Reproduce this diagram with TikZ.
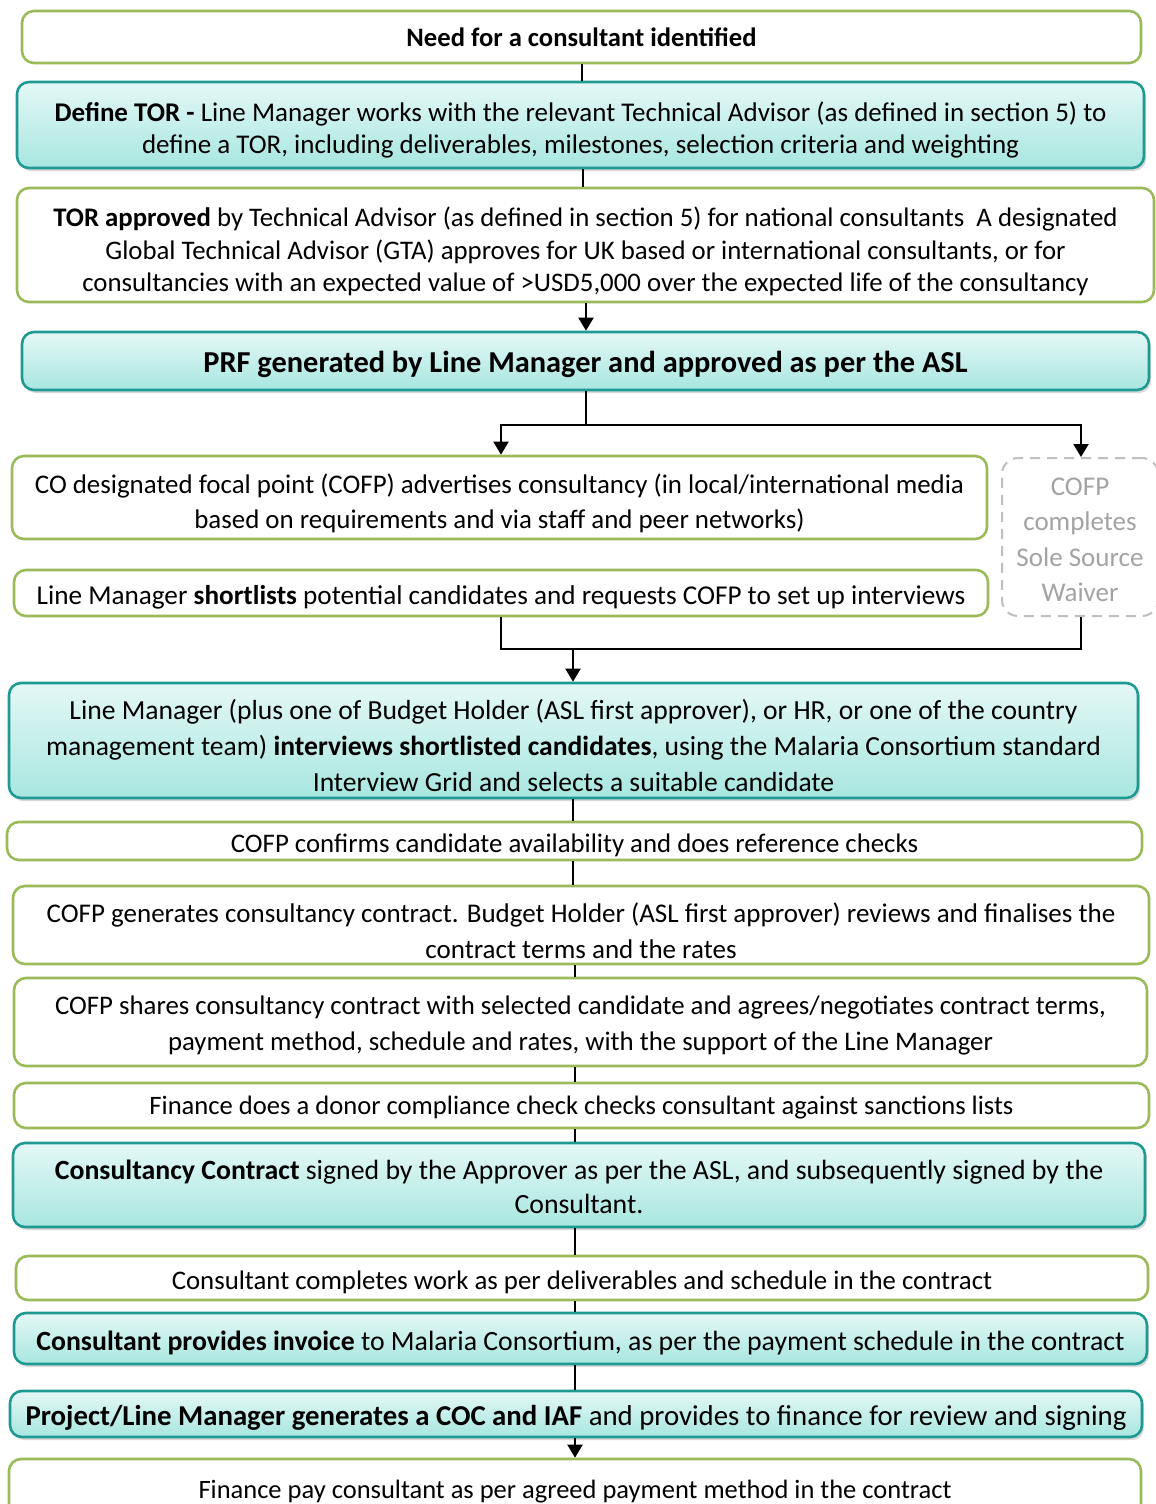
\documentclass[tikz,border=0pt]{standalone}
\usepackage{fontspec}
\setmainfont{Carlito}
\usetikzlibrary{arrows.meta,shadows,calc}
\definecolor{grn}{HTML}{9BBB59}
\definecolor{tealb}{HTML}{1F9A92}
\definecolor{tealtop}{HTML}{E4F8F6}
\definecolor{tealbot}{HTML}{A8E6E0}
\definecolor{gtxt}{HTML}{A3A3A3}
\definecolor{gline}{HTML}{BFBFBF}
\newcommand{\fs}[2]{\fontsize{#1}{#2}\selectfont}
\newcommand{\lf}[1]{\rule{0pt}{#1}}
\begin{document}
\begin{tikzpicture}[x=0.5pt,y=-0.5pt,
 base/.style={rounded corners=6pt, align=center, inner sep=0pt, line width=1.3pt},
 lift/.style={execute at begin node={\rule{0pt}{#1}}},
 wbox/.style={base, draw=grn, fill=white},
 tbox/.style={base, draw=tealb, top color=tealtop, bottom color=tealbot, drop shadow={shadow xshift=1pt,shadow yshift=-1.5pt,opacity=0.3}},
 gbox/.style={rounded corners=8pt, align=center, inner sep=0pt, draw=gline, dash pattern=on 5pt off 3.5pt, text=gtxt, line width=1pt, font=\fs{13.5}{17.8}},
 conn/.style={line width=1pt, draw=black},
 arr/.style={conn, -{Triangle[width=7.5pt,length=6.5pt]}}
]
\useasboundingbox (0,0) rectangle (1156,1504);
\fill[white] (0,0) rectangle (1156,1504);

\node[wbox, minimum width=559.5pt, minimum height=26pt, font=\fs{13.3}{16}] (need) at (581.5,37) {\textbf{Need for a consultant identified}};
\node[tbox, minimum width=563.5pt, minimum height=43pt, font=\fs{13.5}{16}] (tor) at (580.5,125) {\lf{15pt}\textbf{Define TOR -} Line Manager works with the relevant Technical Advisor (as defined in section 5) to\\ define a TOR, including deliverables, milestones, selection criteria and weighting};
\node[wbox, minimum width=568.5pt, minimum height=57pt, font=\fs{13.4}{16.25}] (appr) at (585.5,245) {\lf{16.5pt}\textbf{TOR approved} by Technical Advisor (as defined in section 5) for national consultants\ \ A designated\\ Global Technical Advisor (GTA) approves for UK based or international consultants, or for\\ consultancies with an expected value of >USD5,000 over the expected life of the consultancy};
\node[tbox, lift=14pt, minimum width=563.5pt, minimum height=29pt, font=\fs{15.2}{18}] (prf) at (585.5,361) {\textbf{PRF generated by Line Manager and approved as per the ASL}};
\node[wbox, minimum width=487.5pt, minimum height=41.5pt, font=\fs{13.45}{17.5}] (adv) at (499.5,497.5) {\lf{15.5pt}CO designated focal point (COFP) advertises consultancy (in local/international media\\ based on requirements and via staff and peer networks)};
\node[gbox, minimum width=78pt, minimum height=79pt] (waiver) at (1080,537) {\lf{11.5pt}COFP\\ completes\\ Sole Source\\ Waiver};
\node[wbox, lift=14pt, minimum width=487pt, minimum height=23pt, font=\fs{13.6}{16}] (short) at (501,593) {Line Manager \textbf{shortlists} potential candidates and requests COFP to set up interviews};
\node[tbox, minimum width=564.5pt, minimum height=57.5pt, font=\fs{13.8}{18}] (interv) at (573.5,740.5) {\lf{15pt}Line Manager (plus one of Budget Holder (ASL first approver), or HR, or one of the country\\ management team) \textbf{interviews shortlisted candidates}, using the Malaria Consortium standard\\ Interview Grid and selects a suitable candidate};
\node[wbox, lift=14pt, minimum width=567.5pt, minimum height=19pt, font=\fs{13.4}{16}] (confirm) at (574.5,841) {COFP confirms candidate availability and does reference checks};
\node[wbox, minimum width=568pt, minimum height=39pt, font=\fs{13.5}{18}] (gen) at (581,925) {\lf{15.5pt}COFP generates consultancy contract. Budget Holder (ASL first approver) reviews and finalises the\\ contract terms and the rates};
\node[wbox, minimum width=566.5pt, minimum height=44pt, font=\fs{13.4}{18}] (shares) at (580.5,1022) {\lf{13pt}COFP shares consultancy contract with selected candidate and agrees/negotiates contract terms,\\ payment method, schedule and rates, with the support of the Line Manager};
\node[wbox, lift=11pt, minimum width=567.5pt, minimum height=22.5pt, font=\fs{13.3}{16}] (fin) at (581.5,1105.5) {Finance does a donor compliance check checks consultant against sanctions lists};
\node[tbox, minimum width=566pt, minimum height=42pt, font=\fs{13.9}{17}] (contract) at (579,1185) {\lf{12pt}\textbf{Consultancy Contract} signed by the Approver as per the ASL, and subsequently signed by the\\ Consultant.};
\node[wbox, lift=14pt, minimum width=566pt, minimum height=22pt, font=\fs{13.4}{16}] (work) at (582,1278) {Consultant completes work as per deliverables and schedule in the contract};
\node[tbox, lift=14pt, minimum width=566.5pt, minimum height=25.5pt, font=\fs{13.9}{16}] (invoice) at (580.5,1338.5) {\textbf{Consultant provides invoice} to Malaria Consortium, as per the payment schedule in the contract};
\node[tbox, lift=14pt, minimum width=566pt, minimum height=23pt, font=\fs{14.4}{16}] (coc) at (576,1414) {\textbf{Project/Line Manager generates a COC and IAF} and provides to finance for review and signing};
\node[wbox, minimum width=566pt, minimum height=33pt, font=\fs{13.25}{16}] (pay) at (575,1492) {Finance pay consultant as per agreed payment method in the contract};

\coordinate (ca) at (582,0);
\coordinate (cb) at (583,0);
\coordinate (cc) at (586,0);
\coordinate (cd) at (501,0);
\coordinate (ce) at (1081,0);
\coordinate (cf) at (573,0);
\coordinate (cg) at (575,0);
\coordinate (br1) at (586,425);
\coordinate (br2) at (573,649);

\draw[conn] (need.south -| ca) -- (tor.north -| ca);
\draw[conn] (tor.south -| cb) -- (appr.north -| cb);
\draw[arr] (appr.south -| cc) -- (prf.north -| cc);
\draw[conn] (prf.south -| cc) -- (br1);
\draw[arr] (br1) -| (adv.north -| cd);
\draw[arr] (br1) -| (waiver.north -| ce);
\draw[conn] (short.south -| cd) |- (br2);
\draw[conn] (waiver.south -| ce) |- (br2);
\draw[arr] (br2) -- (interv.north -| cf);
\draw[conn] (interv.south -| cf) -- (confirm.north -| cf);
\draw[conn] (confirm.south -| cf) -- (gen.north -| cf);
\draw[conn] (gen.south -| cg) -- (shares.north -| cg);
\draw[conn] (shares.south -| cg) -- (fin.north -| cg);
\draw[conn] (fin.south -| cg) -- (contract.north -| cg);
\draw[conn] (contract.south -| cg) -- (work.north -| cg);
\draw[conn] (work.south -| cg) -- (invoice.north -| cg);
\draw[conn] (invoice.south -| cg) -- (coc.north -| cg);
\draw[arr] (coc.south -| cg) -- (pay.north -| cg);
\end{tikzpicture}
\end{document}
